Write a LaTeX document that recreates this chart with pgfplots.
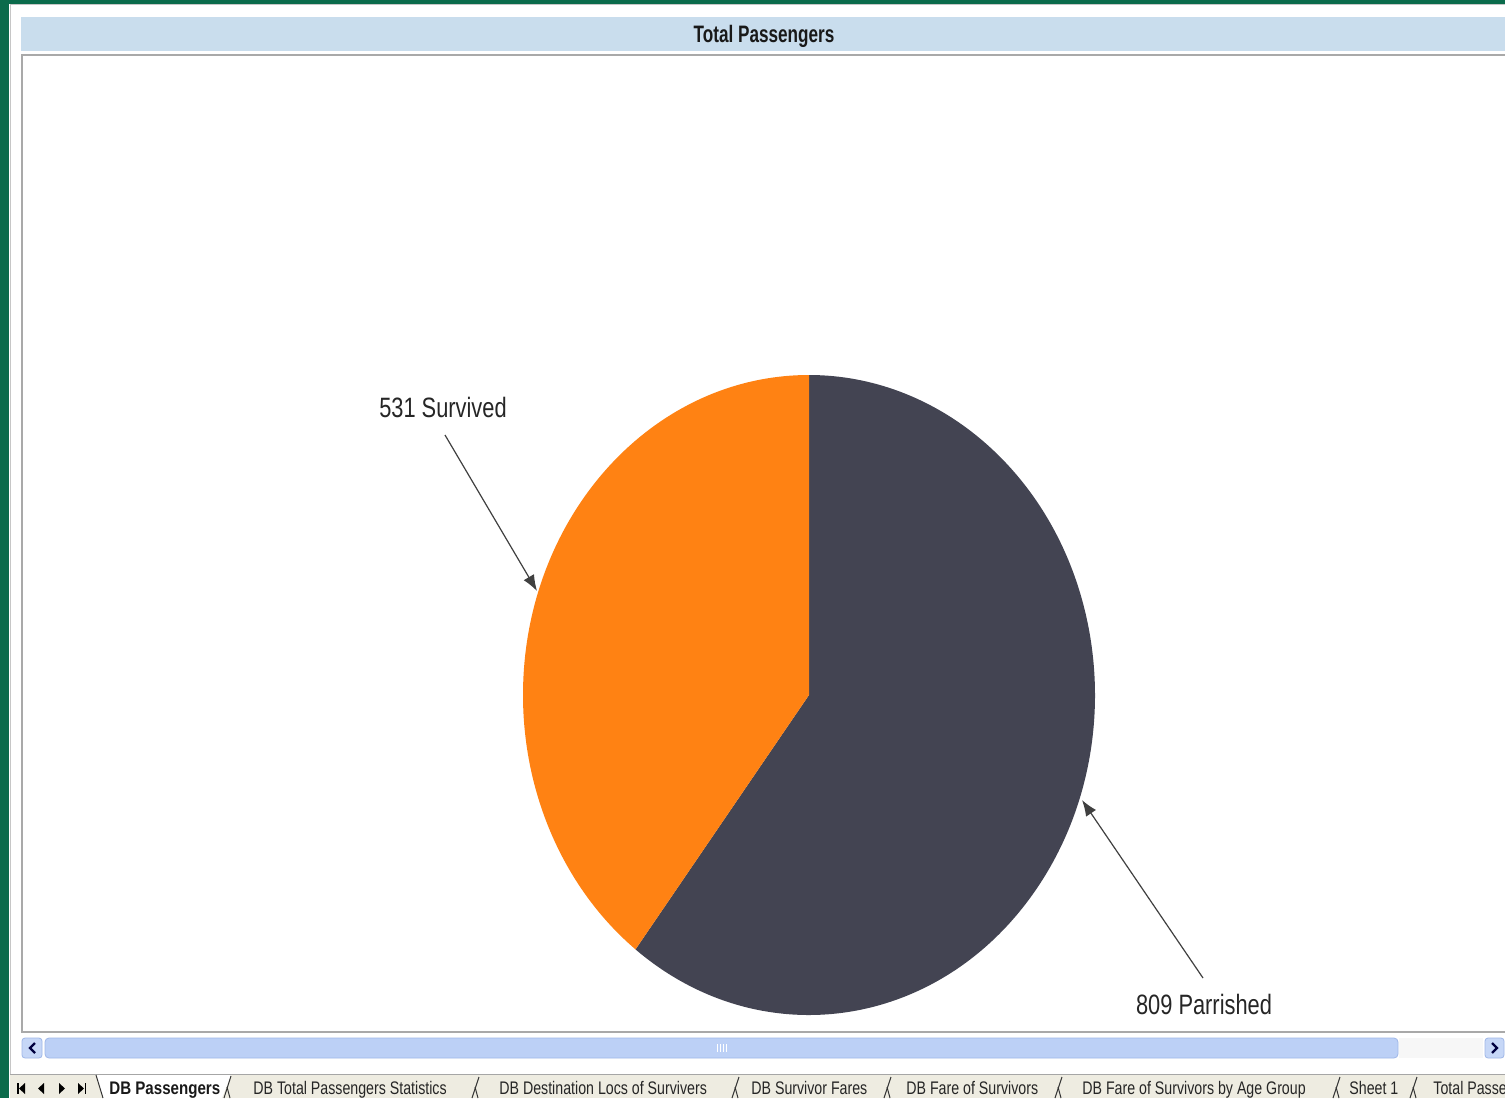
\documentclass[border=0pt]{standalone}
\usepackage{pgfplots}
\pgfplotsset{compat=1.18}
\usepackage{pgfplotstable}
\usetikzlibrary{arrows.meta}
\usepackage{fontspec}
\setmainfont{Liberation Sans}
\newfontfamily\lblfont[FakeStretch=0.78]{Liberation Sans}
\newfontfamily\titlefont[FakeStretch=0.72]{Liberation Sans}
\newfontfamily\tabfont[FakeStretch=0.78]{Liberation Sans}
\newfontfamily\tabbfont[FakeStretch=0.83]{Liberation Sans}
\definecolor{survived}{HTML}{FF8213}
\definecolor{perished}{HTML}{434452}
\definecolor{xlgreen}{HTML}{0B6B4B}
\definecolor{titlebg}{HTML}{C9DDED}
\definecolor{framegray}{HTML}{A9A9A9}
\definecolor{scrollblue}{HTML}{BCD0F6}
\definecolor{scrolledge}{HTML}{9FB7E8}
\definecolor{tabbg}{HTML}{EEECE1}
\begin{document}
\begin{tikzpicture}
\pgfplotstableread{
label value
Survived 531
Parrished 809
}\pietable
\pgfplotstablegetelem{0}{value}\of\pietable \let\vS\pgfplotsretval
\pgfplotstablegetelem{1}{value}\of\pietable \let\vP\pgfplotsretval
\pgfmathsetmacro\fracS{\vS/(\vS+\vP)}
\pgfmathsetmacro\endS{90+360*\fracS}
\begin{axis}[scale only axis, width=752.5pt, height=549pt,
  xmin=0, xmax=1505, ymin=0, ymax=1098, y dir=reverse,
  hide axis, clip=false]
% background
\fill[white] (axis cs:0,0) rectangle (axis cs:1505,1098);
\fill[xlgreen] (axis cs:0,0) rectangle (axis cs:9,1098);
\fill[xlgreen] (axis cs:0,0) rectangle (axis cs:1505,4);
\draw[gray!45, line width=0.5pt] (axis cs:10,1098) -- (axis cs:10,4.8) -- (axis cs:1505,4.8);
% title band
\fill[titlebg] (axis cs:21,17) rectangle (axis cs:1505,51);
\node[font=\titlefont\bfseries\fontsize{11.9}{13}\selectfont, anchor=base, inner sep=0pt, text=black!90]
  at (axis cs:764,42) {Total Passengers};
% chart frame
\draw[framegray, line width=0.7pt] (axis cs:1505,1032) -- (axis cs:22,1032) -- (axis cs:22,55) -- (axis cs:1505,55);
% pie
\fill[perished] (axis cs:809,695) -- ++(\endS:143pt and 160pt)
  arc[start angle=\endS, end angle=450, x radius=143pt, y radius=160pt] -- cycle;
\fill[survived] (axis cs:809,695) -- ++(90:143pt and 160pt)
  arc[start angle=90, end angle=\endS, x radius=143pt, y radius=160pt] -- cycle;
% labels
\draw[-{Latex[length=8pt,width=6pt]}, black!75, line width=0.6pt] (axis cs:445,435) -- (axis cs:537,591);
\draw[-{Latex[length=8pt,width=6pt]}, black!75, line width=0.6pt] (axis cs:1203,978) -- (axis cs:1082,800);
\node[font=\lblfont\fontsize{14}{16}\selectfont, anchor=base, inner sep=0pt, text=black!85]
  at (axis cs:443,417) {\vS\ Survived};
\node[font=\lblfont\fontsize{14}{16}\selectfont, anchor=base, inner sep=0pt, text=black!85]
  at (axis cs:1204,1014) {\vP\ Parrished};
% scrollbar
\filldraw[fill=scrollblue!85, draw=scrolledge, rounded corners=1.5pt] (axis cs:22,1038) rectangle (axis cs:42,1058);
\draw[line width=1.1pt, blue!25!black] (axis cs:35,1043) -- (axis cs:30,1048) -- (axis cs:35,1053);
\filldraw[fill=scrollblue, draw=scrolledge, rounded corners=2pt] (axis cs:45,1038) rectangle (axis cs:1398,1058);
\draw[white, line width=0.5pt] (axis cs:717,1044) -- (axis cs:717,1052);
\draw[white, line width=0.5pt] (axis cs:720,1044) -- (axis cs:720,1052);
\draw[white, line width=0.5pt] (axis cs:723,1044) -- (axis cs:723,1052);
\draw[white, line width=0.5pt] (axis cs:726,1044) -- (axis cs:726,1052);
\fill[gray!6] (axis cs:1399,1038) rectangle (axis cs:1483,1058);
\filldraw[fill=scrollblue!85, draw=scrolledge, rounded corners=1.5pt] (axis cs:1485,1038) rectangle (axis cs:1504,1058);
\draw[line width=1.1pt, blue!25!black] (axis cs:1492,1043) -- (axis cs:1497,1048) -- (axis cs:1492,1053);
% tab strip
\fill[tabbg] (axis cs:10,1074) rectangle (axis cs:1505,1098);
\draw[gray!70, line width=0.6pt] (axis cs:10,1074.5) -- (axis cs:1505,1074.5);
\fill[white] (axis cs:96,1075) -- (axis cs:103,1098) -- (axis cs:222,1098) -- (axis cs:231,1075) -- cycle;
\draw[black!80, line width=0.5pt] (axis cs:96,1075) -- (axis cs:103,1098);
\draw[black!80, line width=0.5pt] (axis cs:231,1076) -- (axis cs:224,1098);
\draw[black!80, line width=0.5pt] (axis cs:227,1087) -- (axis cs:230,1098);
\draw[black!80, line width=0.5pt] (axis cs:479,1077) -- (axis cs:472,1098);
\draw[black!80, line width=0.5pt] (axis cs:475,1087) -- (axis cs:478,1098);
\draw[black!80, line width=0.5pt] (axis cs:739,1077) -- (axis cs:732,1098);
\draw[black!80, line width=0.5pt] (axis cs:735,1087) -- (axis cs:738,1098);
\draw[black!80, line width=0.5pt] (axis cs:891,1077) -- (axis cs:884,1098);
\draw[black!80, line width=0.5pt] (axis cs:887,1087) -- (axis cs:890,1098);
\draw[black!80, line width=0.5pt] (axis cs:1062,1077) -- (axis cs:1055,1098);
\draw[black!80, line width=0.5pt] (axis cs:1058,1087) -- (axis cs:1061,1098);
\draw[black!80, line width=0.5pt] (axis cs:1340,1077) -- (axis cs:1333,1098);
\draw[black!80, line width=0.5pt] (axis cs:1336,1087) -- (axis cs:1339,1098);
\draw[black!80, line width=0.5pt] (axis cs:1417,1077) -- (axis cs:1410,1098);
\draw[black!80, line width=0.5pt] (axis cs:1413,1087) -- (axis cs:1416,1098);
% nav buttons
\fill[black] (axis cs:17,1083) rectangle (axis cs:18.5,1094);
\fill[black] (axis cs:25,1083) -- (axis cs:19,1088.5) -- (axis cs:25,1094) -- cycle;
\fill[black] (axis cs:44,1083) -- (axis cs:38,1088.5) -- (axis cs:44,1094) -- cycle;
\fill[black] (axis cs:59,1083) -- (axis cs:65,1088.5) -- (axis cs:59,1094) -- cycle;
\fill[black] (axis cs:78,1083) -- (axis cs:84,1088.5) -- (axis cs:78,1094) -- cycle;
\fill[black] (axis cs:84.5,1083) rectangle (axis cs:86,1094);
% tab texts
\node[font=\tabbfont\bfseries\fontsize{9.1}{10}\selectfont, anchor=base west, inner sep=0pt, text=black!90] at (axis cs:109,1094) {DB Passengers};
\node[font=\tabfont\fontsize{9.1}{10}\selectfont, anchor=base west, inner sep=0pt, text=black!85] at (axis cs:253,1094) {DB Total Passengers Statistics};
\node[font=\tabfont\fontsize{9.1}{10}\selectfont, anchor=base west, inner sep=0pt, text=black!85] at (axis cs:499,1094) {DB Destination Locs of Survivers};
\node[font=\tabfont\fontsize{9.1}{10}\selectfont, anchor=base west, inner sep=0pt, text=black!85] at (axis cs:751,1094) {DB Survivor Fares};
\node[font=\tabfont\fontsize{9.1}{10}\selectfont, anchor=base west, inner sep=0pt, text=black!85] at (axis cs:906,1094) {DB Fare of Survivors};
\node[font=\tabfont\fontsize{9.1}{10}\selectfont, anchor=base west, inner sep=0pt, text=black!85] at (axis cs:1082,1094) {DB Fare of Survivors by Age Group};
\node[font=\tabfont\fontsize{9.1}{10}\selectfont, anchor=base west, inner sep=0pt, text=black!85] at (axis cs:1349,1094) {Sheet 1};
\node[font=\tabfont\fontsize{9.1}{10}\selectfont, anchor=base west, inner sep=0pt, text=black!85] at (axis cs:1433,1094) {Total Passengers};
\end{axis}
\pgfresetboundingbox
\path (0,0) rectangle (752.5pt,549pt);
\end{tikzpicture}
\end{document}
